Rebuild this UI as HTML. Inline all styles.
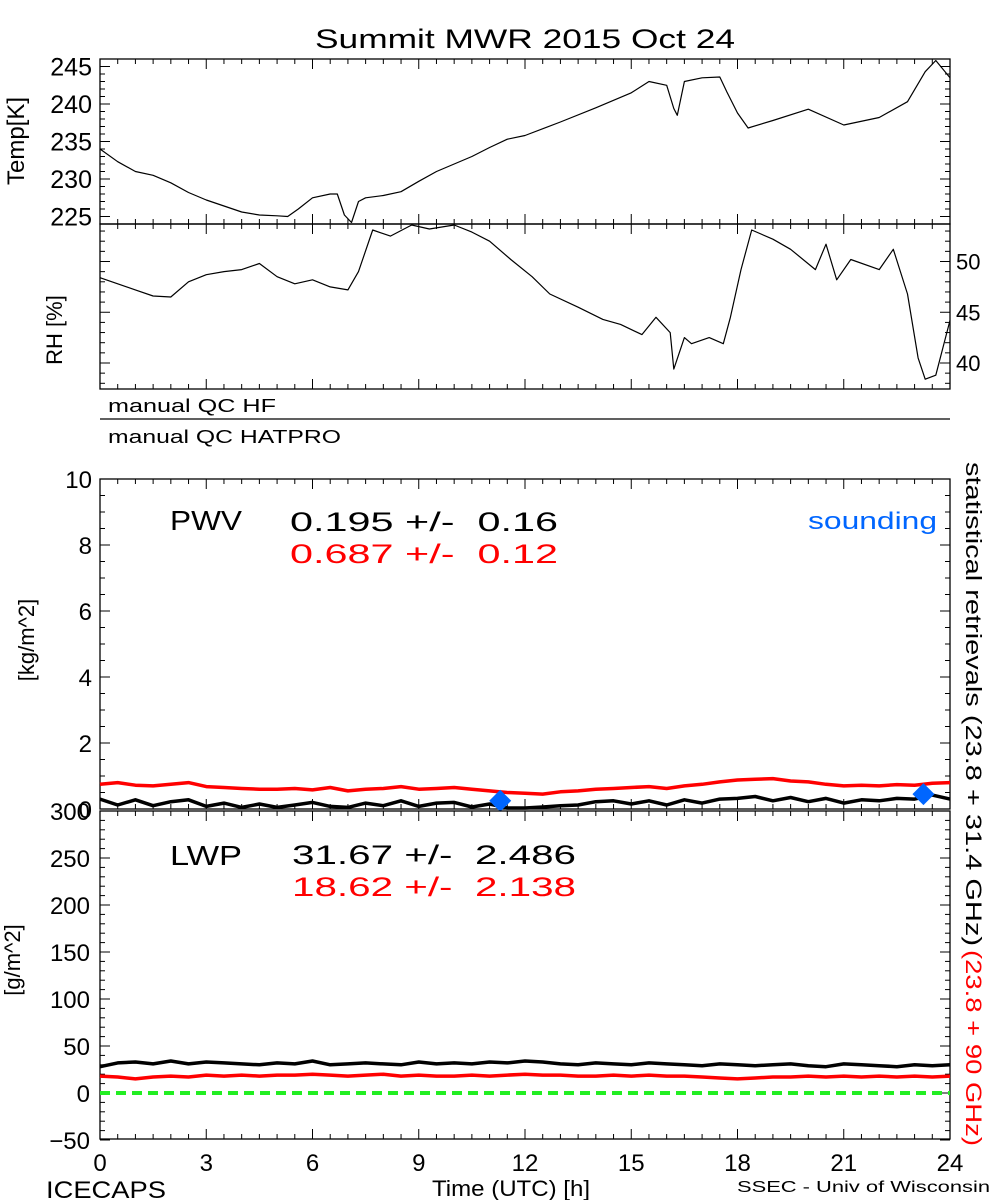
<!DOCTYPE html>
<html><head><meta charset="utf-8"><style>
html,body{margin:0;padding:0;background:#fff;}
svg{display:block;font-family:"Liberation Sans",sans-serif;}
text{white-space:pre;}
</style></head><body>
<svg id="chart" width="1000" height="1200" viewBox="0 0 1000 1200">
<text x="315" y="48" font-size="27" textLength="420" lengthAdjust="spacingAndGlyphs">Summit MWR 2015 Oct 24</text>
<g id="g"></g>
</svg>
<script>
// ---- data ----
const tempTimes=[0,0.5,1,1.5,2,2.5,3,3.5,4,4.5,5,5.3,5.6,6,6.5,6.7,6.9,7.1,7.3,7.5,8,8.5,9,9.5,10,10.5,11,11.5,12,13,14,15,15.5,16,16.2,16.3,16.5,17,17.5,17.7,18,18.3,19,20,21,22,22.8,23.3,23.6,24];
const tempVals=[234,232.3,231,230.5,229.5,228.2,227.2,226.4,225.6,225.2,225.1,225,226,227.5,228,228,225.2,224.2,227,227.5,227.8,228.3,229.7,231,232,233,234.2,235.3,235.8,237.6,239.5,241.5,243,242.5,239.4,238.5,243,243.5,243.6,241.6,238.8,236.8,237.8,239.3,237.2,238.2,240.3,244.3,245.8,243.5];
const rhTimes=[0,0.5,1,1.5,2,2.5,3,3.5,4,4.5,5,5.5,6,6.5,7,7.3,7.7,8.2,8.8,9.3,10,10.5,11,11.6,12.2,12.7,13.5,14.2,14.7,15.3,15.7,16.1,16.2,16.5,16.7,17.2,17.6,17.8,18.1,18.4,19,19.5,20.2,20.5,20.8,21.2,22,22.4,22.8,23.1,23.3,23.6,24];
const rhVals=[48.4,47.8,47.2,46.6,46.5,48,48.7,49,49.2,49.8,48.5,47.8,48.2,47.5,47.2,49,53.1,52.5,53.6,53.2,53.6,52.9,52,50.2,48.5,46.8,45.5,44.3,43.8,42.8,44.5,43,39.4,42.5,41.9,42.5,41.9,44.5,49.2,53.1,52.2,51.2,49.2,51.7,48.2,50.2,49.2,51.2,46.8,40.5,38.4,38.8,44.2];
const pwvTimes=[0,0.5,1,1.5,2,2.5,3,3.5,4,4.5,5,5.5,6,6.5,7,7.5,8,8.5,9,9.5,10,10.5,11,11.5,12,12.5,13,13.5,14,14.5,15,15.5,16,16.5,17,17.5,18,18.5,19,19.5,20,20.5,21,21.5,22,22.5,23,23.5,24];
const pwvBlack=[0.3,0.12,0.28,0.1,0.22,0.28,0.08,0.18,0.05,0.15,0.05,0.12,0.2,0.08,0.05,0.18,0.1,0.25,0.08,0.18,0.2,0.06,0.15,0.03,0.03,0.06,0.1,0.12,0.22,0.25,0.15,0.25,0.12,0.28,0.18,0.3,0.32,0.38,0.25,0.35,0.22,0.32,0.18,0.28,0.25,0.32,0.3,0.42,0.3];
const pwvRed=[0.75,0.8,0.72,0.7,0.75,0.8,0.68,0.65,0.62,0.6,0.6,0.62,0.58,0.65,0.55,0.6,0.62,0.68,0.6,0.62,0.65,0.6,0.55,0.5,0.48,0.45,0.52,0.55,0.6,0.62,0.65,0.68,0.62,0.7,0.75,0.82,0.88,0.9,0.92,0.85,0.82,0.75,0.7,0.72,0.7,0.74,0.72,0.78,0.8];
const lwpBlack=[28,32,33,31,34,31,33,32,31,30,32,31,34,30,31,32,31,30,33,31,32,31,33,32,34,33,31,30,32,31,30,32,31,30,29,31,30,29,30,31,29,28,31,30,29,28,30,29,30];
const lwpRed=[18,17,15,17,18,17,19,18,19,18,19,19,20,19,18,19,20,18,19,18,18,19,18,19,20,19,19,18,18,19,18,19,18,18,17,16,15,16,17,17,18,17,18,17,18,17,18,17,18];
const soundT=[11.3,23.25];
const soundPWV=[0.25,0.45];
const xTicks=[0,3,6,9,12,15,18,21,24];
const tempTicks=[225,230,235,240,245];
const rhTicks=[40,45,50];
const pwvTicks=[0,2,4,6,8,10];
const lwpTicks=[-50,0,50,100,150,200,250,300];

// ---- scales ----
const X0=100,X1=950;
const xs=t=>X0+(X1-X0)*t/24;
const lin=(d0,d1,r0,r1)=>v=>r0+(v-d0)*(r1-r0)/(d1-d0);
const yT=lin(224,246,224,59);
const yR=lin(40,50,363,261.5);
const yP=lin(0,10,809,479);
const yL=lin(0,300,1093,811);
const NS='http://www.w3.org/2000/svg';
const g=document.getElementById('g');
function el(tag,attrs,parent){const e=document.createElementNS(NS,tag);for(const k in attrs)e.setAttribute(k,attrs[k]);(parent||g).appendChild(e);return e;}
function txt(x,y,s,attrs,name){const e=el('text',Object.assign({x:x,y:y},attrs));e.textContent=s;


return e;}
function line(ts,vs,ys,color,w,name){let d='';ts.forEach((t,i)=>{d+=(i?'L':'M')+xs(t).toFixed(1)+','+ys(vs[i]).toFixed(1);});
const p=el('path',{d:d,fill:'none',stroke:color,'stroke-width':w,'stroke-linejoin':'round'});


return p;}
function frame(top,bot,name){const r=el('rect',{x:X0,y:top,width:X1-X0,height:bot-top,fill:'none',stroke:'#000','stroke-width':1.3});


for(let t=0;t<=24;t+=0.5){const maj=t%3===0;const L=maj?10:5;
el('line',{x1:xs(t),x2:xs(t),y1:top,y2:top+L,stroke:'#000'});el('line',{x1:xs(t),x2:xs(t),y1:bot,y2:bot-L,stroke:'#000'});}}
function yticks(ys,vals,minorStep,lo,hi,left,right){for(let v=lo;v<=hi+1e-9;v+=minorStep){const maj=vals.some(m=>Math.abs(m-v)<1e-6);const L=maj?10:5;const y=ys(v);
if(left)el('line',{x1:X0,x2:X0+L,y1:y,y2:y,stroke:'#000'});if(right)el('line',{x1:X1,x2:X1-L,y1:y,y2:y,stroke:'#000'});}}

// Temp panel
frame(59,224,'temp-panel');
yticks(yT,tempTicks,1,224,246,true,true);
tempTicks.forEach(v=>txt(92,yT(v)+9,String(v),{'font-size':25,'text-anchor':'end'},'temp-tick-label'));
txt(0,0,'Temp[K]',{'font-size':24,'text-anchor':'middle',transform:'translate(24,141) rotate(-90)'},'temp-axis-title');
line(tempTimes,tempVals,yT,'#000',1.2,'temperature-line');
// RH panel
frame(224,389,'rh-panel');
yticks(yR,rhTicks,1,38,53,true,true);
rhTicks.forEach(v=>txt(956,yR(v)+8,String(v),{'font-size':22},'rh-tick-label'));
txt(0,0,'RH [%]',{'font-size':22,'text-anchor':'middle',transform:'translate(62,330) rotate(-90)'},'rh-axis-title');
line(rhTimes,rhVals,yR,'#000',1.2,'rh-line');
// QC
txt(108,412,'manual QC HF',{'font-size':18,textLength:168,lengthAdjust:'spacingAndGlyphs'},'qc-hf-label');
el('line',{x1:X0,x2:X1,y1:419,y2:419,stroke:'#000','stroke-width':1.3});
txt(108,443,'manual QC HATPRO',{'font-size':18,textLength:233,lengthAdjust:'spacingAndGlyphs'},'qc-hatpro-label');
// PWV panel
frame(479,809,'pwv-panel');
yticks(yP,pwvTicks,0.5,0,10,true,true);
pwvTicks.forEach(v=>txt(92,yP(v)+9,String(v),{'font-size':24,'text-anchor':'end'},'pwv-tick-label'));
txt(0,0,'[kg/m^2]',{'font-size':22,'text-anchor':'middle',transform:'translate(34,640) rotate(-90)'},'pwv-axis-title');
line(pwvTimes,pwvRed,yP,'#f00',3.5,'pwv-red-line');
line(pwvTimes,pwvBlack,yP,'#000',3.5,'pwv-black-line');
soundT.forEach((t,i)=>{const x=xs(t),y=yP(soundPWV[i]);const p=el('polygon',{points:`${x},${y-11} ${x+11},${y} ${x},${y+11} ${x-11},${y}`,fill:'#0066ff'});

});
txt(170,530,'PWV',{'font-size':28,textLength:72,lengthAdjust:'spacingAndGlyphs'},'pwv-label');
txt(290,531,'0.195 +/-  0.16',{'font-size':27,textLength:268,lengthAdjust:'spacingAndGlyphs'},'pwv-black-stat');
txt(290,563,'0.687 +/-  0.12',{'font-size':27,fill:'#f00',textLength:268,lengthAdjust:'spacingAndGlyphs'},'pwv-red-stat');
txt(808,529,'sounding',{'font-size':24,fill:'#0066ff',textLength:129,lengthAdjust:'spacingAndGlyphs'},'sounding-legend');
// LWP panel
frame(811,1139,'lwp-panel');
yticks(yL,lwpTicks,10,-50,300,true,true);
lwpTicks.forEach(v=>txt(90,yL(v)+9,(v<0?'\u2212':'')+Math.abs(v),{'font-size':24,'text-anchor':'end'},'lwp-tick-label'));
txt(0,0,'[g/m^2]',{'font-size':22,'text-anchor':'middle',transform:'translate(20,960) rotate(-90)'},'lwp-axis-title');
const z=el('line',{x1:X0,x2:X1,y1:yL(0),y2:yL(0),stroke:'#22ee22','stroke-width':4,'stroke-dasharray':'10,6'});


line(pwvTimes,lwpBlack,yL,'#000',3.5,'lwp-black-line');
line(pwvTimes,lwpRed,yL,'#f00',3.5,'lwp-red-line');
txt(170,865,'LWP',{'font-size':28,textLength:72,lengthAdjust:'spacingAndGlyphs'},'lwp-label');
txt(292,864,'31.67 +/-  2.486',{'font-size':27,textLength:284,lengthAdjust:'spacingAndGlyphs'},'lwp-black-stat');
txt(292,896,'18.62 +/-  2.138',{'font-size':27,fill:'#f00',textLength:284,lengthAdjust:'spacingAndGlyphs'},'lwp-red-stat');
// x axis
xTicks.forEach(v=>txt(xs(v),1171,String(v),{'font-size':24,'text-anchor':'middle'},'x-tick-label'));
txt(46,1198,'ICECAPS',{'font-size':24,textLength:120,lengthAdjust:'spacingAndGlyphs'},'icecaps-label');
txt(432,1196,'Time (UTC) [h]',{'font-size':22,textLength:158,lengthAdjust:'spacingAndGlyphs'},'x-axis-title');
txt(737,1192,'SSEC - Univ of Wisconsin',{'font-size':16,textLength:253,lengthAdjust:'spacingAndGlyphs'},'credit-label');
// right vertical labels
txt(0,0,'statistical retrievals (23.8 + 31.4 GHz)',{'font-size':22,transform:'translate(966,462) rotate(90)',textLength:484,lengthAdjust:'spacingAndGlyphs'},'retrieval-label-black');
txt(0,0,'(23.8 + 90 GHz)',{'font-size':22,fill:'#f00',transform:'translate(966,950) rotate(90)',textLength:196,lengthAdjust:'spacingAndGlyphs'},'retrieval-label-red');
</script>
</body></html>
